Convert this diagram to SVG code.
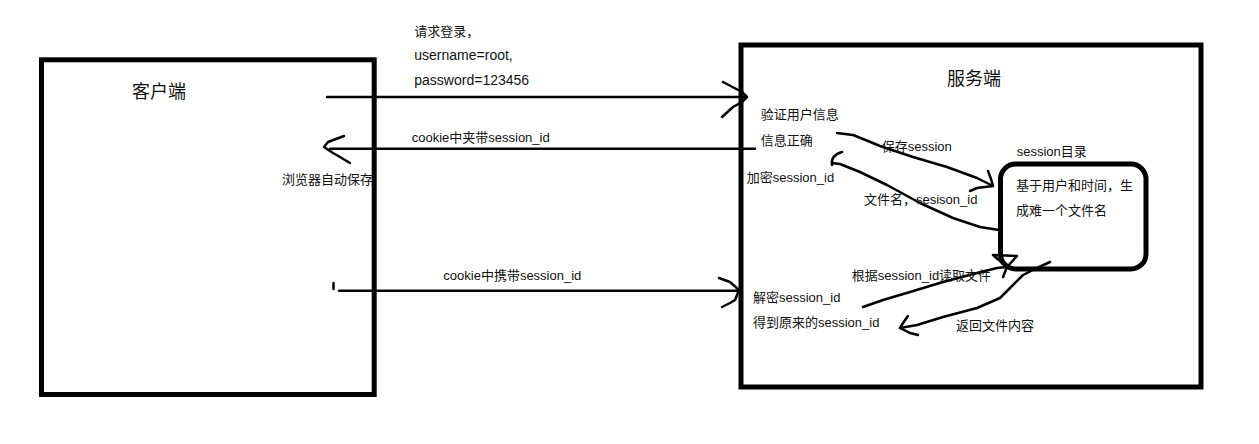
<svg xmlns="http://www.w3.org/2000/svg" width="1259" height="444" viewBox="0 0 1259 444">
<style>
.box{fill:none;stroke:#000;stroke-width:5}
.ln{fill:none;stroke:#000;stroke-width:2.5;stroke-linecap:round;stroke-linejoin:round}
.hd{fill:none;stroke:#000;stroke-width:2.5;stroke-linecap:round;stroke-linejoin:round}
text{font-family:"Liberation Sans","Noto Sans CJK SC",sans-serif;font-size:13px;fill:#111}
.title{font-size:18px}
.big{font-size:14px}
</style>
<rect width="1259" height="444" fill="#fff"/>
<g id="client">
<rect class="box" x="41.5" y="59.8" width="332.7" height="334.7"/>
<text class="title" x="132" y="98">客户端</text>
</g>
<g id="server">
<rect class="box" x="741" y="45" width="460" height="342"/>
<text class="title" x="947" y="85">服务端</text>
<text x="760.7" y="119">验证用户信息</text>
<text x="760.7" y="145">信息正确</text>
<text x="746.7" y="182">加密session_id</text>
<text x="753" y="302">解密session_id</text>
<text x="753" y="327">得到原来的session_id</text>
</g>
<g id="session-dir">
<rect class="box" x="1000.5" y="164" width="145.5" height="105" rx="15"/>
<text x="1016.7" y="156">session目录</text>
<text x="1016" y="190">基于用户和时间，生</text>
<text x="1016" y="215">成难一个文件名</text>
</g>
<g id="connectors">
<path class="ln" d="M327,97 L746,97"/>
<path class="hd" d="M723,82 L742,92 L747,97 M722,117 L733,107 L742,102 L747,97"/>
<path class="ln" d="M330,148.7 L755,148.7"/>
<path class="hd" d="M344,136 L328,142 L324,147 L333,153 L340,157 L350,163"/>
<path class="ln" d="M333.5,283 L333.5,289"/>
<path class="ln" d="M339,290.7 L740,290.7"/>
<path class="hd" d="M719,278 L730,282 L739,290 L735,300 L730,303 L722,307"/>
<path class="ln" d="M837,133 L853,135 L868,141 L880,146 L913,157 L947,167 L977,178 L993,186"/>
<path class="hd" d="M988,171 L991,179 L993,186 M970,191 L977,188 L993,186"/>
<path class="ln" d="M842,152 C835,154 831,158 832,165 M832,163 L840,164 L860,172 L887,185 L920,203 L953,218 L980,227 L999,230"/>
<path class="ln" d="M863,307 L883,300 L910,292 L943,282 L977,273 L997,268 L1007,267"/>
<path class="hd" d="M993,255 L1017,256 L1007,267 L993,255 M1007,267 L1003,277"/>
<path class="ln" d="M1050,262 L1037,268 L1023,275 L1010,288 L1000,298 L977,308 L943,317 L917,325 L900,328"/>
<path class="hd" d="M908,316 L903,323 L900,328 L910,333 L918,335"/>
</g>
<g id="labels">
<text x="414.3" y="36">请求登录，</text>
<text class="big" x="414.3" y="60">username=root,</text>
<text class="big" x="414.3" y="85">password=123456</text>
<text x="411.7" y="142">cookie中夹带session_id</text>
<text x="282" y="184">浏览器自动保存</text>
<text x="443.3" y="280">cookie中携带session_id</text>
<text x="881.7" y="151">保存session</text>
<text x="864" y="204">文件名，sesison_id</text>
<text x="851.7" y="280">根据session_id读取文件</text>
<text x="956" y="330">返回文件内容</text>
</g>
</svg>
